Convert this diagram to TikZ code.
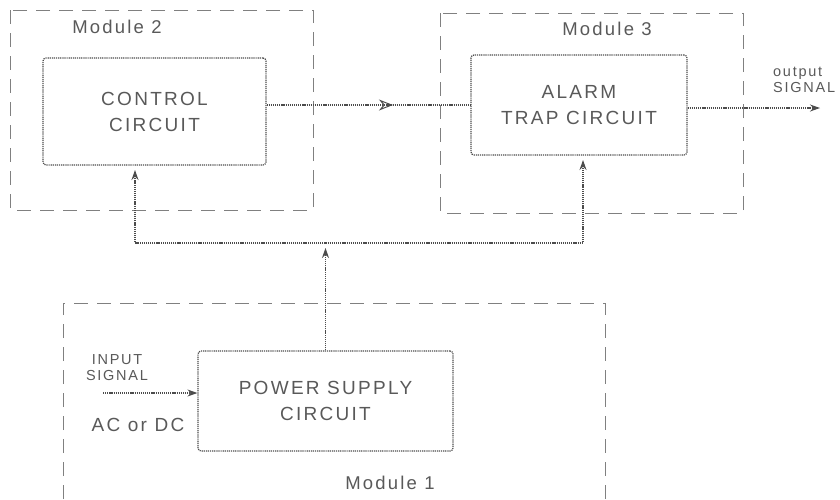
\documentclass[tikz,border=0pt]{standalone}
\usepackage{fontspec}
\newfontfamily\diafont{Liberation Sans}[LetterSpace=12]
\usetikzlibrary{arrows.meta,decorations.markings}

\begin{document}
\begin{tikzpicture}[x=1pt,y=-1pt,
  box/.style={draw=black!70,dash pattern=on 1.2pt off 0.9pt,line width=1.2pt,rounded corners=3pt,
              align=center,font=\diafont\fontsize{19}{26}\selectfont,text=black!65,inner sep=0pt},
  modbox/.style={draw=black!50,line width=0.9pt,dash pattern=on 14pt off 9pt},
  lbl/.style={font=\diafont\fontsize{18.5}{22}\selectfont,text=black!65,inner sep=0pt},
  small/.style={font=\diafont\fontsize{14.5}{16}\selectfont,text=black!65,inner sep=0pt},
  wire/.style={draw=black!70,dash pattern=on 1.2pt off 0.9pt,line width=1.1pt},
  ar/.style={wire,-{Stealth[length=10pt,width=7pt]}}]
  \useasboundingbox (0,0) rectangle (840,499);
  % module frames
  \draw[modbox] (10,10) rectangle (313,210);
  \draw[modbox] (440,13) rectangle (743,213);
  \draw[modbox] (63,499) |- (605,303) -- (605,499);
  \node[lbl] (m2) at (117,27) {Module 2};
  \node[lbl] (m3) at (607,29) {Module 3};
  \node[lbl] (m1) at (390,483) {Module 1};
  % blocks
  \node[box,minimum width=223pt,minimum height=107pt] (ctrl) at (154.5,111.5) {CONTROL\\CIRCUIT};
  \node[box,minimum width=216pt,minimum height=100pt] (alarm) at (579,105) {ALARM\\TRAP CIRCUIT};
  \node[box,minimum width=255pt,minimum height=100pt] (power) at (325.5,401) {POWER SUPPLY\\CIRCUIT};
  % signals in and out
  \node[small,align=center] (insig) at (117,368) {INPUT\\SIGNAL};
  \node[lbl,font=\diafont\fontsize{19}{22}\selectfont] (acdc) at (138,425) {AC or DC};
  \node[small,align=left,anchor=west] (outsig) at (773,80) {output\\SIGNAL};
  \coordinate (in) at (103,393);
  \coordinate (out) at (822,108);
  \draw[ar] (in) -- (in -| power.west);
  \draw[ar,shorten >=2pt] (alarm.east |- out) -- (out);
  \draw[wire,decoration={markings,mark=at position 0.62 with {\arrow{Stealth[open,length=14pt,width=11pt,line width=1pt]}}},
        postaction={decorate}] (alarm.west -| ctrl.east) -- (alarm.west);
  % supply bus
  \coordinate (bus) at (power.north |- 0,243);
  \coordinate (c2) at (135,165);
  \coordinate (c3) at (583,155);
  \draw[ar,shorten >=5pt] (power.north) -- (bus);
  \foreach \t in {c2,c3} \draw[ar,shorten >=5pt] (bus) -| (\t);
\end{tikzpicture}
\end{document}
